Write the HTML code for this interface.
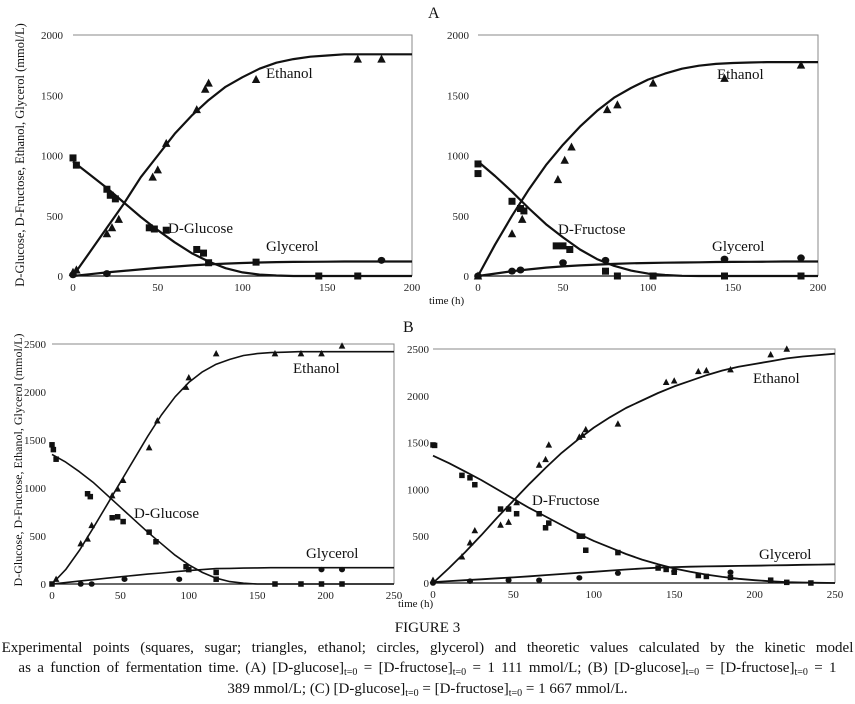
<!DOCTYPE html>
<html><head><meta charset="utf-8">
<style>
html,body{margin:0;padding:0;background:#fff;}
#wrap{position:relative;width:855px;height:704px;overflow:hidden;font-family:"Liberation Serif",serif;color:#111;}
svg{position:absolute;left:0;top:0;}
.cap{position:absolute;left:0;width:855px;text-align:center;font-size:15px;line-height:20px;white-space:nowrap;}
sub{font-size:10px;vertical-align:-3px;line-height:0;}
</style></head>
<body>
<div id="wrap">
<svg id="fig" width="855" height="704"></svg>
<div class="cap" style="top:618px">FIGURE 3</div>
<div class="cap" style="top:638px;word-spacing:6.8px">Experimental points (squares, sugar; triangles, ethanol; circles, glycerol) and theoretic values calculated by the kinetic model</div>
<div class="cap" style="top:658px;word-spacing:2.6px">as a function of fermentation time. (A) [D-glucose]<sub>t=0</sub> = [D-fructose]<sub>t=0</sub> = 1 111 mmol/L; (B) [D-glucose]<sub>t=0</sub> = [D-fructose]<sub>t=0</sub> = 1</div>
<div class="cap" style="top:679px">389 mmol/L; (C) [D-glucose]<sub>t=0</sub> = [D-fructose]<sub>t=0</sub> = 1 667 mmol/L.</div>
</div>
<script>
// ---------- Panel A1 (D-Glucose) ----------
const a1SugarT = [0,2,20,22,25,45,48,55,73,77,80,108,145,168];
const a1SugarV = [980,920,720,670,640,400,390,380,220,190,110,115,0,0];
const a1EthT = [0,2,20,23,27,47,50,55,73,78,80,108,168,182];
const a1EthV = [30,50,350,400,470,820,880,1100,1380,1550,1600,1630,1800,1800];
const a1GlyT = [0,20,182];
const a1GlyV = [10,20,130];
const a1ModelT = [0,10,20,30,40,50,60,70,80,90,100,110,120,130,140,150,160,170,180,190,200];
const a1ModelEth = [0,200,400,600,820,1000,1180,1330,1460,1570,1650,1720,1770,1800,1820,1830,1840,1840,1840,1840,1840];
const a1ModelSugar = [950,840,730,610,490,380,280,190,120,65,30,12,4,0,0,0,0,0,0,0,0];
const a1ModelGly = [0,15,30,42,55,67,78,88,96,103,108,112,115,117,118,119,120,120,120,120,120];
// ---------- Panel A2 (D-Fructose) ----------
const a2SugarT = [0,0,20,25,27,46,50,54,75,82,103,145,190];
const a2SugarV = [930,850,620,560,540,250,250,220,40,0,0,0,0];
const a2EthT = [0,20,26,47,51,55,76,82,103,145,190];
const a2EthV = [0,350,470,800,960,1070,1380,1420,1600,1640,1750];
const a2GlyT = [0,20,25,50,75,145,190];
const a2GlyV = [0,40,50,110,130,140,150];
const a2ModelT = [0,10,20,30,40,50,60,70,80,90,100,110,120,130,140,150,160,170,180,190,200];
const a2ModelEth = [0,260,500,720,920,1090,1240,1370,1480,1560,1630,1680,1720,1745,1760,1768,1772,1775,1775,1775,1775];
const a2ModelSugar = [950,830,700,560,430,320,220,140,85,45,20,8,2,0,0,0,0,0,0,0,0];
const a2ModelGly = [0,20,40,55,70,80,88,95,100,105,108,110,112,114,116,117,118,119,120,120,120];
// ---------- Panel B1 (D-Glucose) ----------
const b1SugarT = [0,1,3,0,26,28,44,48,52,71,76,98,100,120,120,163,182,197,212];
const b1SugarV = [1450,1400,1300,0,940,910,690,700,650,540,440,180,150,120,50,0,0,0,0];
const b1EthT = [3,21,26,29,44,48,52,71,77,98,100,120,163,182,197,212];
const b1EthV = [50,420,470,610,920,990,1080,1420,1700,2050,2150,2400,2400,2400,2400,2480];
const b1GlyT = [21,29,53,93,197,212];
const b1GlyV = [0,0,50,50,150,150];
const b1ModelT = [0,10,20,30,40,50,60,70,80,90,100,110,120,130,140,150,160,170,180,190,200,210,220,230,240,250];
const b1ModelEth = [0,150,350,580,820,1060,1300,1540,1760,1950,2100,2210,2290,2340,2380,2400,2410,2415,2420,2420,2420,2420,2420,2420,2420,2420];
const b1ModelSugar = [1350,1270,1170,1060,930,800,670,540,420,300,200,120,60,25,8,0,0,0,0,0,0,0,0,0,0,0];
const b1ModelGly = [0,15,30,45,60,75,90,103,115,128,140,150,160,163,166,168,170,170,170,170,170,170,170,170,170,170];
// ---------- Panel B2 (D-Fructose) ----------
const b2SugarT = [0,1,18,23,26,42,47,52,66,70,72,91,93,95,115,140,145,150,165,170,185,210,220,235];
const b2SugarV = [1475,1470,1150,1124,1050,790,790,740,740,590,640,500,500,350,325,160,145,115,80,70,60,30,7,0];
const b2EthT = [0,18,23,26,42,47,52,66,70,72,91,93,95,115,145,150,165,170,185,210,220];
const b2EthV = [30,280,430,560,620,650,860,1260,1320,1475,1560,1580,1640,1700,2145,2160,2260,2270,2280,2440,2500];
const b2GlyT = [0,23,47,66,91,115,150,185];
const b2GlyV = [0,20,30,30,55,105,125,115];
const b2ModelT = [0,10,20,30,40,50,60,70,80,90,100,110,120,130,140,150,160,170,180,190,200,210,220,230,240,250];
const b2ModelEth = [0,160,330,510,700,880,1060,1230,1390,1530,1660,1770,1870,1950,2030,2100,2160,2220,2270,2310,2340,2370,2400,2420,2435,2450];
const b2ModelSugar = [1360,1280,1190,1100,1000,900,800,710,620,530,450,380,310,250,200,155,120,90,65,45,30,18,10,5,2,0];
const b2ModelGly = [10,20,30,40,50,60,72,84,96,108,120,132,144,155,163,170,174,177,180,183,185,188,190,194,197,200];

// tick label arrays
const ticksA_Y = [0,500,1000,1500,2000];
const ticksA_X = [0,50,100,150,200];
const ticksB_Y = [0,500,1000,1500,2000,2500];
const ticksB_X = [0,50,100,150,200,250];

const NS = "http://www.w3.org/2000/svg";
const svg = document.getElementById('fig');
function mk(tag, attrs, parent){
  const e = document.createElementNS(NS, tag);
  for (const k in attrs) e.setAttribute(k, attrs[k]);
  (parent||svg).appendChild(e);
  return e;
}

function panel(cfg){
  const g = mk('g', {});
  
  
  const xs = t => cfg.L + (t - 0) / cfg.xMax * (cfg.R - cfg.L);
  const ys = v => cfg.B - v / cfg.yMax * (cfg.B - cfg.T);
  const fr = mk('path', {d:`M${cfg.L} ${cfg.T} H${cfg.R} V${cfg.B}`, fill:'none', stroke:'#888', 'stroke-width':1}, g);
  
  
  const xa = mk('line', {x1:cfg.L, x2:cfg.R, y1:cfg.B, y2:cfg.B, stroke:'#111', 'stroke-width':1.3}, g);
  
  
  cfg.yTicks.forEach(v => {
    const t = mk('text', {x:cfg.yLabX, y:ys(v)+4, 'text-anchor':'end', 'font-size':11, fill:'#222'}, g);
    t.textContent = v;
    
    
  });
  cfg.xTicks.forEach(v => {
    const t = mk('text', {x:xs(v), y:cfg.B+15, 'text-anchor':'middle', 'font-size':11, fill:'#222'}, g);
    t.textContent = v;
    
    
  });
  [[cfg.mEth,'ethanol-model-curve'],[cfg.mSug,'sugar-model-curve'],[cfg.mGly,'glycerol-model-curve']].forEach(([arr,nm]) => {
    const d = arr.map((v,i)=>(i?'L':'M')+xs(cfg.mT[i]).toFixed(1)+' '+ys(v).toFixed(1)).join(' ');
    const p = mk('path', {d, fill:'none', stroke:'#111', 'stroke-width':cfg.lw, 'stroke-linejoin':'round'}, g);
    
    
  });
  const s = cfg.ms;
  cfg.sT.forEach((t,i) => {
    const r = mk('rect', {x:xs(t)-s/2, y:ys(cfg.sV[i])-s/2, width:s, height:s, fill:'#111'}, g);
    
    
  });
  cfg.eT.forEach((t,i) => {
    const x = xs(t), y = ys(cfg.eV[i]), h = s*1.1;
    const p = mk('polygon', {points:`${x},${y-h*0.6} ${x-h*0.55},${y+h*0.45} ${x+h*0.55},${y+h*0.45}`, fill:'#111'}, g);
    
    
  });
  cfg.gT.forEach((t,i) => {
    const c = mk('ellipse', {cx:xs(t), cy:ys(cfg.gV[i]), rx:s*0.55, ry:s*0.5, fill:'#111'}, g);
    
    
  });
  cfg.labels.forEach(([txt,x,y,nm]) => {
    const t = mk('text', {x, y:y+5, 'font-size':15, fill:'#111'}, g);
    t.textContent = txt;
    
    
  });
}

panel({name:'panel-a-glucose', L:73, R:412, T:35, B:276, xMax:200, yMax:2000, yLabX:63, yTicks:ticksA_Y, xTicks:ticksA_X,
  mT:a1ModelT, mEth:a1ModelEth, mSug:a1ModelSugar, mGly:a1ModelGly, sT:a1SugarT, sV:a1SugarV, eT:a1EthT, eV:a1EthV, gT:a1GlyT, gV:a1GlyV,
  ms:7, lw:2.2, labels:[['Ethanol',266,73,'ethanol-label'],['D-Glucose',168,228,'d-glucose-label'],['Glycerol',266,246,'glycerol-label']]});
panel({name:'panel-a-fructose', L:478, R:818, T:35, B:276, xMax:200, yMax:2000, yLabX:469, yTicks:ticksA_Y, xTicks:ticksA_X,
  mT:a2ModelT, mEth:a2ModelEth, mSug:a2ModelSugar, mGly:a2ModelGly, sT:a2SugarT, sV:a2SugarV, eT:a2EthT, eV:a2EthV, gT:a2GlyT, gV:a2GlyV,
  ms:7, lw:2.2, labels:[['Ethanol',717,74,'ethanol-label'],['D-Fructose',558,229,'d-fructose-label'],['Glycerol',712,246,'glycerol-label']]});
panel({name:'panel-b-glucose', L:52, R:394, T:344, B:584, xMax:250, yMax:2500, yLabX:46, yTicks:ticksB_Y, xTicks:ticksB_X,
  mT:b1ModelT, mEth:b1ModelEth, mSug:b1ModelSugar, mGly:b1ModelGly, sT:b1SugarT, sV:b1SugarV, eT:b1EthT, eV:b1EthV, gT:b1GlyT, gV:b1GlyV,
  ms:5.5, lw:1.6, labels:[['Ethanol',293,368,'ethanol-label'],['D-Glucose',134,513,'d-glucose-label'],['Glycerol',306,553,'glycerol-label']]});
panel({name:'panel-b-fructose', L:433, R:835, T:349, B:583, xMax:250, yMax:2500, yLabX:429, yTicks:ticksB_Y, xTicks:ticksB_X,
  mT:b2ModelT, mEth:b2ModelEth, mSug:b2ModelSugar, mGly:b2ModelGly, sT:b2SugarT, sV:b2SugarV, eT:b2EthT, eV:b2EthV, gT:b2GlyT, gV:b2GlyV,
  ms:5.5, lw:1.8, labels:[['Ethanol',753,378,'ethanol-label'],['D-Fructose',532,500,'d-fructose-label'],['Glycerol',759,554,'glycerol-label']]});

function txt(s, attrs, nm){
  const t = mk('text', attrs);
  t.textContent = s;
  
  
}
txt('A', {x:428, y:18, 'font-size':16, fill:'#111'}, 'panel-a-label');
txt('B', {x:403, y:332, 'font-size':16, fill:'#111'}, 'panel-b-label');
txt('time (h)', {x:429, y:304, 'font-size':11, fill:'#111'}, 'x-axis-title-a');
txt('time (h)', {x:398, y:607, 'font-size':11, fill:'#111'}, 'x-axis-title-b');
txt('D-Glucose, D-Fructose, Ethanol, Glycerol (mmol/L)', {x:0, y:0, 'font-size':12.5, fill:'#111', 'text-anchor':'middle', transform:'translate(24,155) rotate(-90)'}, 'y-axis-title-a');
txt('D-Glucose, D-Fructose, Ethanol, Glycerol (mmol/L)', {x:0, y:0, 'font-size':12, fill:'#111', 'text-anchor':'middle', transform:'translate(22,460) rotate(-90)'}, 'y-axis-title-b');
</script>
</body></html>
